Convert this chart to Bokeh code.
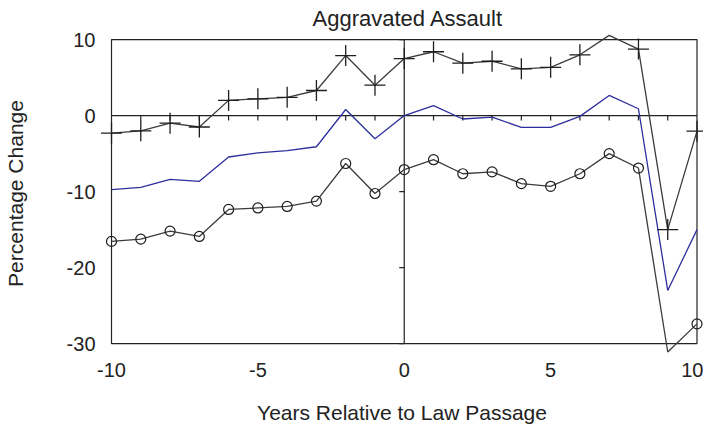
from bokeh.plotting import figure
from bokeh.models import Range1d, FixedTicker, PrintfTickFormatter
from bokeh.embed import file_html
from bokeh.resources import INLINE
import math

# ---- data ----
years = list(range(-10, 11))
upper = [-2.3, -2.0, -1.0, -1.5, 2.0, 2.2, 2.4, 3.3, 7.9, 4.0, 7.5,
         8.4, 6.9, 7.15, 6.15, 6.35, 8.0, 10.55, 8.75, -15.0, -2.05]
middle = [-9.75, -9.45, -8.4, -8.65, -5.45, -4.9, -4.6, -4.1, 0.8, -3.05, 0.0,
          1.3, -0.45, -0.2, -1.55, -1.55, -0.1, 2.65, 0.9, -23.0, -15.0]
lower = [-16.55, -16.25, -15.2, -15.9, -12.35, -12.15, -11.95, -11.25, -6.3, -10.25, -7.1,
         -5.8, -7.65, -7.4, -8.95, -9.3, -7.65, -5.0, -6.9, -31.1, -27.4]

x_ticks = [-10, -5, 0, 5, 10]
y_ticks = [-30, -20, -10, 0, 10]
x_lim = [-10, 10]
y_lim = [-30, 10]
zero_axis_ticks = [t for t in range(-9, 10) if t != 0]

FONT = "Liberation Sans"
DARK = "#3c3c3c"
BLUE = "#2e2e9e"

p = figure(frame_width=603, frame_height=320, output_backend="svg", toolbar_location=None,
           x_range=Range1d(-10.376, 10.222), y_range=Range1d(-31.3, 10.8),
           min_border_left=100, min_border_right=0, min_border_top=30, min_border_bottom=71)
p.outline_line_color = None
p.grid.visible = False
p.background_fill_color = "white"
p.border_fill_color = "white"

# title
p.title.text = "Aggravated Assault"
p.title.text_font = FONT
p.title.text_font_size = "22px"
p.title.text_font_style = "normal"
p.title.text_color = "#222222"
p.title.align = "left"
p.title.offset = 212
p.title.standoff = 6

for ax in (p.xaxis[0], p.yaxis[0]):
    ax.axis_line_color = None
    ax.major_tick_line_color = None
    ax.minor_tick_line_color = None
    ax.major_tick_out = 0
    ax.major_tick_in = 0
    ax.major_label_text_font = FONT
    ax.major_label_text_font_size = "20px"
    ax.major_label_text_color = "#222222"
    ax.axis_label_text_font = FONT
    ax.axis_label_text_font_size = "21px"
    ax.axis_label_text_font_style = "normal"
    ax.axis_label_text_color = "#222222"
    ax.formatter = PrintfTickFormatter(format="%d")

p.xaxis.ticker = FixedTicker(ticks=x_ticks)
p.yaxis.ticker = FixedTicker(ticks=y_ticks)
p.xaxis.axis_label = "Years Relative to Law Passage"
p.yaxis.axis_label = "Percentage Change"
p.xaxis.major_label_standoff = 9
p.xaxis.axis_label_standoff = 21
p.yaxis.major_label_standoff = 5
p.yaxis.axis_label_standoff = 37

# frame box
p.quad(left=[x_lim[0]], right=[x_lim[1]], bottom=[y_lim[0]], top=[y_lim[1]],
       fill_color=None, line_color="#222222", line_width=1.2)
# zero lines
p.line(x=x_lim, y=[0, 0], line_color="#222222", line_width=1.2)
p.line(x=[0, 0], y=y_lim, line_color="#222222", line_width=1.2)
# ticks on zero lines
p.ray(x=zero_axis_ticks, y=[0] * len(zero_axis_ticks), length=5, length_units="screen",
      angle=-math.pi / 2, line_color="#222222", line_width=1.2)
p.ray(x=[0] * len(y_ticks), y=y_ticks, length=5, length_units="screen",
      angle=math.pi, line_color="#222222", line_width=1.2)

# series
p.line(years, upper, line_color=DARK, line_width=1.3)
p.line(years, middle, line_color=BLUE, line_width=1.3)
p.line(years, lower, line_color=DARK, line_width=1.3)

def inside(xs, ys):
    pts = [(a, b) for a, b in zip(xs, ys) if y_lim[0] <= b <= y_lim[1]]
    return [a for a, _ in pts], [b for _, b in pts]

ux, uy = inside(years, upper)
lx, ly = inside(years, lower)
p.scatter(ux, uy, marker="cross", size=21, line_color="#1e1e1e", line_width=1.3)
p.scatter(lx, ly, marker="circle", size=10, fill_color=None, line_color="#1e1e1e", line_width=1.2)

open("out.html", "w").write(file_html(p, INLINE))
